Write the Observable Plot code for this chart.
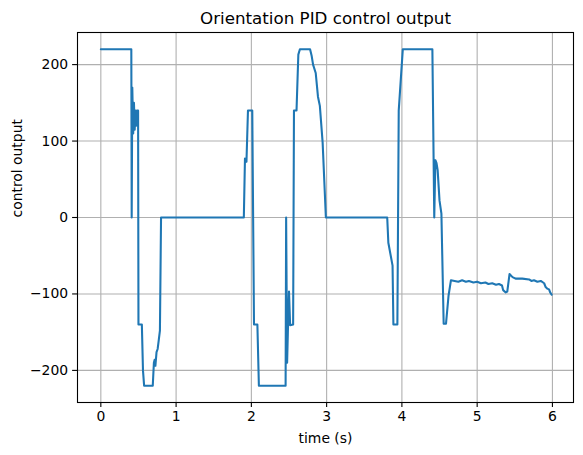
<!DOCTYPE html>
<html>
<head>
<meta charset="utf-8">
<script src="https://cdn.jsdelivr.net/npm/d3@7"></script>
<script src="https://cdn.jsdelivr.net/npm/@observablehq/plot@0.6"></script>
<style>
  html, body { margin: 0; padding: 0; background: #fff; }
  #chart { width: 583px; height: 455px; }
</style>
</head>
<body>
<div id="chart"></div>
<script>
const title = "Orientation PID control output";
const xLabel = "time (s)";
const yLabel = "control output";
const xTicks = [0, 1, 2, 3, 4, 5, 6];
const yTicks = [-200, -100, 0, 100, 200];

const time = [
  0, 0.405, 0.41, 0.418, 0.43, 0.44, 0.45, 0.46, 0.47, 0.48, 0.495, 0.50,
  0.545, 0.56, 0.575, 0.69, 0.705, 0.715, 0.725, 0.74, 0.755, 0.77, 0.785, 0.80,
  1.90, 1.915, 1.935, 1.955, 2.012, 2.035, 2.08, 2.10,
  2.455, 2.462, 2.475, 2.485, 2.50, 2.515, 2.555, 2.566, 2.60, 2.624, 2.645,
  2.78, 2.80, 2.82, 2.855, 2.885, 2.91, 2.947, 2.99,
  3.805, 3.82, 3.876, 3.887, 3.94, 3.958, 4.012,
  4.405, 4.43, 4.445, 4.46, 4.475, 4.50, 4.525, 4.555, 4.586, 4.62, 4.652,
  4.70, 4.75, 4.80, 4.85, 4.89, 4.95, 5.00, 5.05, 5.11, 5.15, 5.20, 5.25, 5.29, 5.33,
  5.345, 5.38, 5.40, 5.43, 5.47, 5.51, 5.60, 5.69, 5.72, 5.755, 5.80, 5.845,
  5.89, 5.91, 5.93, 5.955, 5.97, 5.99
];
const output = [
  220, 220, 0, 170, 110, 150, 115, 140, 120, 140, 140, -140,
  -140, -200, -220, -220, -190, -186, -194, -176, -172, -160, -148, 0,
  0, 77, 73, 140, 140, -140, -140, -220,
  -220, 0, -190, -150, -97, -141, -140, 140, 140, 213, 220,
  220, 212, 200, 189, 158, 146, 98, 0,
  0, -33, -63, -140, -140, 140, 220,
  220, 0, 75, 71, 62, 22, 5, -139, -139, -102, -82,
  -83, -84, -82, -84, -83, -85, -84, -86, -85, -87, -86, -88, -87, -89,
  -95, -98, -97, -74, -78, -80, -80, -81, -83, -82, -84, -83,
  -86, -91, -93, -94, -98, -101
];

const data = time.map((t, i) => ({t, u: output[i]}));
const fmt = d => d < 0 ? "\u2212" + Math.abs(d) : String(d);

const chart = Plot.plot({
  width: 583,
  height: 455,
  marginLeft: 77,
  marginRight: 10,
  marginTop: 32,
  marginBottom: 53,
  style: {fontFamily: "DejaVu Sans", fontSize: "13.9px", color: "black", background: "white"},
  x: {domain: [-0.31, 6.28]},
  y: {domain: [-242, 242]},
  marks: [
    Plot.gridX(xTicks, {stroke: "#b0b0b0", strokeOpacity: 1, strokeWidth: 1.1}),
    Plot.gridY(yTicks, {stroke: "#b0b0b0", strokeOpacity: 1, strokeWidth: 1.1}),
    Plot.line(data, {x: "t", y: "u", stroke: "#1f77b4", strokeWidth: 2.08, strokeLinejoin: "round"}),
    Plot.frame({stroke: "black", strokeWidth: 1.1}),
    Plot.axisX(xTicks, {tickSize: 4.9, tickPadding: 4, strokeWidth: 1.1, tickFormat: fmt, label: null, fontSize: 13.9}),
    Plot.axisY(yTicks, {tickSize: 4.9, tickPadding: 4.5, strokeWidth: 1.1, tickFormat: fmt, label: null, fontSize: 13.9}),
    Plot.text([title], {frameAnchor: "top", dy: -14, lineAnchor: "middle", fontSize: 16.7, fill: "black"}),
    Plot.text([xLabel], {frameAnchor: "bottom", dy: 36, lineAnchor: "middle", fontSize: 13.9, fill: "black"}),
    Plot.text([yLabel], {frameAnchor: "left", dx: -60, rotate: -90, lineAnchor: "middle", fontSize: 13.9, fill: "black"})
  ]
});
document.getElementById("chart").appendChild(chart);
</script>
</body>
</html>
